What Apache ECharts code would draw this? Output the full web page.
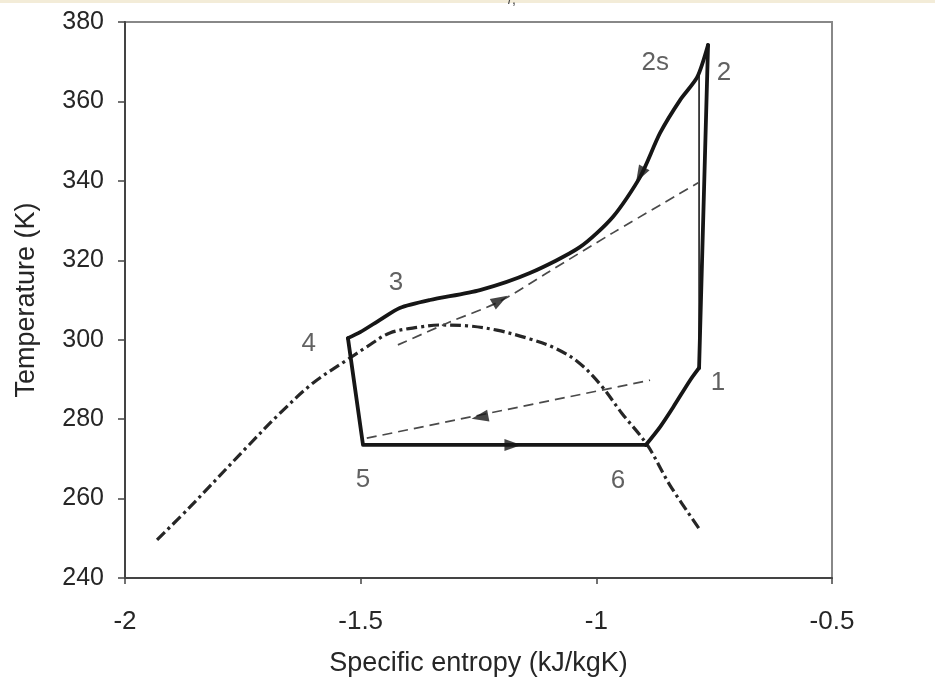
<!DOCTYPE html>
<html>
<head>
<meta charset="utf-8">
<script src="https://cdn.jsdelivr.net/npm/echarts@6/dist/echarts.min.js"></script>
<style>
html,body{margin:0;padding:0;background:#fff;}
#chart{width:935px;height:688px;}
</style>
</head>
<body>
<div id="chart"></div>
<script>
// ---- data (entropy kJ/kgK, temperature K) ----
const xTicks = [-2, -1.5, -1, -0.5];
const yTicks = [240, 260, 280, 300, 320, 340, 360, 380];

// refrigeration cycle, in segments
// 2 -> 3 -> 4 (gas cooling / condensation)
const coolEntropy = [-0.763, -0.786, -0.822, -0.865, -0.907, -0.965, -1.035, -1.141, -1.247, -1.353, -1.417, -1.459, -1.501, -1.527];
const coolTemp    = [374.2, 366.1, 360.4, 352.0, 341.0, 330.9, 323.3, 316.8, 312.5, 310.0, 308.0, 305.0, 301.9, 300.4];
// 4 -> 5 (expansion) -> 6 (evaporation)
const expEvapEntropy = [-1.527, -1.495, -0.895];
const expEvapTemp    = [300.4, 273.5, 273.5];
// 6 -> 1 (superheating)
const superEntropy = [-0.895, -0.865, -0.837, -0.801, -0.782];
const superTemp    = [273.5, 278.0, 283.0, 289.8, 292.9];
// 1 -> 2 (real compression)
const compEntropy = [-0.782, -0.763];
const compTemp    = [292.9, 374.2];

// isentropic compression 1 -> 2s
const isenEntropy = [-0.782, -0.782];
const isenTemp    = [292.9, 367.5];

// saturation dome
const domeEntropy = [-1.932, -1.862, -1.741, -1.671, -1.601, -1.529, -1.487, -1.438, -1.374, -1.332, -1.274, -1.211, -1.141, -1.088, -1.039, -0.992, -0.946, -0.892, -0.844, -0.780];
const domeTemp    = [249.6, 257.9, 273.0, 281.5, 289.1, 294.9, 298.2, 301.7, 303.2, 303.7, 303.5, 302.4, 300.2, 297.9, 294.4, 288.8, 281.5, 273.5, 263.4, 252.1];

// internal heat exchanger streams (dashed)
const hxHotEntropy  = [-1.421, -1.310, -1.204, -1.105, -0.965, -0.784];
const hxHotTemp     = [298.7, 304.5, 309.7, 316.8, 326.9, 339.5];
const hxColdEntropy = [-1.487, -0.886];
const hxColdTemp    = [275.2, 289.8];

// direction arrows
const arrowEntropy = [-1.177, -0.907, -1.204, -1.247];
const arrowTemp    = [273.5, 341.5, 310.0, 280.5];
const arrowAngle   = [-90, 151, -60, 101];

// state point labels
const stateNames   = ['2s', '2', '3', '4', '5', '6', '1'];
const stateEntropy = [-0.875, -0.729, -1.425, -1.610, -1.495, -0.954, -0.742];
const stateTemp    = [369.6, 367.2, 314.3, 298.9, 264.6, 264.4, 289.1];

const zip = (a, b) => a.map((v, i) => [v, b[i]]);

const chart = echarts.init(document.getElementById('chart'), null, {renderer: 'canvas'});
const txt = '#262626';
const FONT = '"Liberation Sans", Arial, sans-serif';
const cycleStyle = {color: '#161616', width: 3.8, join: 'round', cap: 'round'};

chart.setOption({
  animation: false,
  backgroundColor: '#fff',
  graphic: [
    {type: 'rect', left: 0, top: 0, shape: {width: 935, height: 3}, style: {fill: '#f3ecd8'}, silent: true},
    {type: 'text', left: 508, top: -7, style: {text: '/,', fontSize: 14, fill: '#444', fontFamily: FONT}, silent: true}
  ],
  grid: {left: 125, right: 103, top: 22, bottom: 110, show: true, borderColor: '#888', borderWidth: 2, containLabel: false},
  xAxis: {
    type: 'value', min: -2, max: -0.5, interval: 0.5,
    name: 'Specific entropy (kJ/kgK)', nameLocation: 'middle', nameGap: 72,
    nameTextStyle: {fontSize: 27, color: txt, fontFamily: FONT},
    axisLine: {show: true, onZero: false, lineStyle: {color: '#444', width: 2}},
    axisTick: {show: true, length: 6, lineStyle: {color: '#444', width: 1.5}},
    axisLabel: {fontSize: 26, color: txt, fontFamily: FONT, margin: 31,
      formatter: v => xTicks.includes(v) ? String(v) : ''},
    splitLine: {show: false}
  },
  yAxis: {
    type: 'value', min: 240, max: 380, interval: 20,
    name: 'Temperature (K)', nameLocation: 'middle', nameGap: 85, nameRotate: 90,
    nameTextStyle: {fontSize: 27, color: txt, fontFamily: FONT},
    axisLine: {show: true, onZero: false, lineStyle: {color: '#444', width: 2}},
    axisTick: {show: true, length: 7, lineStyle: {color: '#444', width: 1.5}},
    axisLabel: {fontSize: 25, color: txt, fontFamily: FONT, margin: 21,
      formatter: v => yTicks.includes(v) ? String(v) : ''},
    splitLine: {show: false}
  },
  series: [
    {type: 'line', name: 'dome', data: zip(domeEntropy, domeTemp), showSymbol: false, smooth: 0.35,
      lineStyle: {color: '#262626', width: 3.2, type: [11, 4, 3, 4]}, z: 2},
    {type: 'line', name: 'hxHot', data: zip(hxHotEntropy, hxHotTemp), showSymbol: false, smooth: 0.3,
      lineStyle: {color: '#4a4a4a', width: 1.7, type: [10, 6]}, z: 2},
    {type: 'line', name: 'hxCold', data: zip(hxColdEntropy, hxColdTemp), showSymbol: false,
      lineStyle: {color: '#4a4a4a', width: 1.7, type: [10, 6]}, z: 2},
    {type: 'line', name: 'isentropic', data: zip(isenEntropy, isenTemp), showSymbol: false,
      lineStyle: {color: '#333', width: 1.8}, z: 3},
    {type: 'line', name: 'cooling', data: zip(coolEntropy, coolTemp), showSymbol: false, smooth: 0.25,
      lineStyle: cycleStyle, z: 4},
    {type: 'line', name: 'expEvap', data: zip(expEvapEntropy, expEvapTemp), showSymbol: false,
      lineStyle: cycleStyle, z: 4},
    {type: 'line', name: 'superheat', data: zip(superEntropy, superTemp), showSymbol: false, smooth: 0.25,
      lineStyle: cycleStyle, z: 4},
    {type: 'line', name: 'compression', data: zip(compEntropy, compTemp), showSymbol: false,
      lineStyle: cycleStyle, z: 4},
    {type: 'scatter', name: 'arrows', z: 5,
      data: arrowEntropy.map((s, i) => ({value: [s, arrowTemp[i]], symbolRotate: arrowAngle[i]})),
      symbol: 'triangle', symbolSize: [12, 17], itemStyle: {color: '#161616'}},
    {type: 'scatter', name: 'states', z: 6,
      data: stateNames.map((n, i) => ({name: n, value: [stateEntropy[i], stateTemp[i]]})),
      symbolSize: 1, itemStyle: {color: 'rgba(0,0,0,0)'},
      label: {show: true, position: 'inside', formatter: p => p.name, fontSize: 26, color: '#3a3a3a', fontFamily: FONT}}
  ]
});
</script>
</body>
</html>
